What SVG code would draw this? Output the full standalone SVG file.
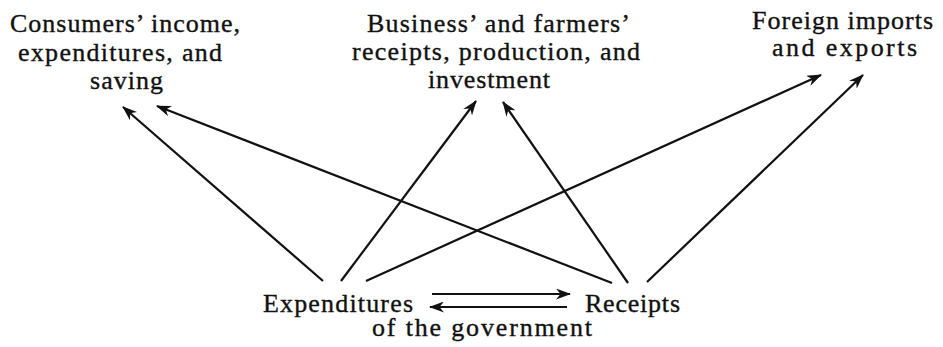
<svg xmlns="http://www.w3.org/2000/svg" width="943" height="347" viewBox="0 0 943 347">
  <style>
    .lbl { font-family: "Liberation Serif", "DejaVu Serif", serif; font-size: 26px; fill: #111; stroke: #111; stroke-width: 0.35; }
    .edge { stroke: #111; stroke-width: 2.2; fill: none; marker-end: url(#head); }
  </style>
  <defs>
    <marker id="head" viewBox="0 0 15 11" refX="14" refY="5.5" markerWidth="15" markerHeight="11" markerUnits="userSpaceOnUse" orient="auto">
      <path d="M0,0 L15,5.5 L0,11 L4.5,5.5 Z" fill="#111"/>
    </marker>
  </defs>

  <g id="consumers">
    <text class="lbl" x="10" y="32" textLength="230" lengthAdjust="spacing">Consumers’ income,</text>
    <text class="lbl" x="18" y="61" textLength="204" lengthAdjust="spacing">expenditures, and</text>
    <text class="lbl" x="90" y="89" textLength="73" lengthAdjust="spacing">saving</text>
  </g>

  <g id="business">
    <text class="lbl" x="367" y="32" textLength="263" lengthAdjust="spacing">Business’ and farmers’</text>
    <text class="lbl" x="352" y="60" textLength="288" lengthAdjust="spacing">receipts, production, and</text>
    <text class="lbl" x="428" y="88" textLength="122" lengthAdjust="spacing">investment</text>
  </g>

  <g id="foreign">
    <text class="lbl" x="752" y="29" textLength="181" lengthAdjust="spacing">Foreign imports</text>
    <text class="lbl" x="772" y="56" textLength="145" lengthAdjust="spacing">and exports</text>
  </g>

  <g id="expenditures">
    <text class="lbl" x="263" y="312" textLength="150" lengthAdjust="spacing">Expenditures</text>
  </g>

  <g id="receipts">
    <text class="lbl" x="585" y="312" textLength="95" lengthAdjust="spacing">Receipts</text>
  </g>

  <g id="government">
    <text class="lbl" x="372" y="336" textLength="220" lengthAdjust="spacing">of the government</text>
  </g>

  <g id="connectors">
    <!-- from expenditures -->
    <line class="edge" x1="323" y1="281" x2="123" y2="107"/>
    <line class="edge" x1="341" y1="281" x2="476" y2="101"/>
    <line class="edge" x1="366" y1="281" x2="821" y2="75"/>
    <!-- from receipts -->
    <line class="edge" x1="612" y1="283" x2="157" y2="106"/>
    <line class="edge" x1="628" y1="283" x2="503" y2="102"/>
    <line class="edge" x1="647" y1="282" x2="863" y2="75"/>
    <!-- flows between expenditures and receipts -->
    <line class="edge" x1="432" y1="294" x2="570" y2="294"/>
    <line class="edge" x1="567" y1="307" x2="430" y2="307"/>
  </g>
</svg>
